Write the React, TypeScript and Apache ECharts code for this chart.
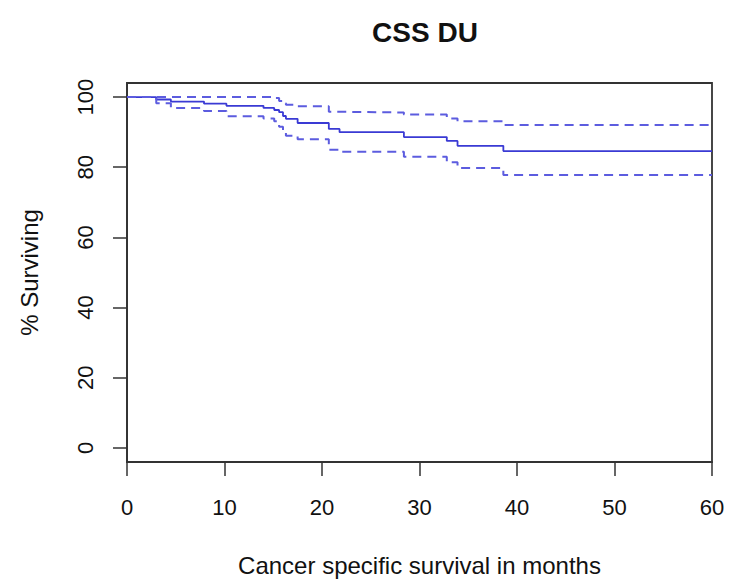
import React, { useEffect, useRef } from "react";
import * as echarts from "echarts";

// Kaplan-Meier estimate (months, % surviving) and its confidence band
const months = [0, 3.0, 4.5, 7.9, 10.2, 14.0, 15.1, 15.6, 16.0, 16.3, 17.5, 20.7, 21.8, 28.4, 32.8, 33.9, 38.6, 60];
const surviving = [100, 99.3, 98.7, 98.1, 97.5, 96.9, 96.3, 95.7, 94.6, 93.8, 92.6, 90.9, 90.0, 88.6, 87.5, 86.1, 84.6, 84.6];
const upperCI = [100, 100, 100, 100, 100, 100, 99.7, 98.9, 98.2, 97.8, 97.4, 95.8, 95.6, 95.0, 93.9, 93.1, 92.0, 92.0];
const lowerCI = [100, 98.2, 96.9, 96.0, 94.5, 93.9, 93.1, 91.5, 90.0, 89.0, 88.0, 85.0, 84.4, 83.0, 81.4, 79.8, 77.8, 77.8];
const yTicks = [0, 20, 40, 60, 80, 100];

const FONT = "'Liberation Sans', Arial, Helvetica, sans-serif";

export default function App() {
  const ref = useRef<HTMLDivElement>(null);
  useEffect(() => {
    if (!ref.current) return;
    const chart = echarts.init(ref.current, undefined, { renderer: "svg" });
    const pairs = (ys: number[]) => months.map((m, i) => [m, ys[i]]);
    chart.setOption({
      animation: false,
      backgroundColor: "#ffffff",
      title: {
        text: "CSS DU",
        left: 420,
        top: 13,
        textAlign: "center",
        textStyle: { fontFamily: FONT, fontSize: 28, fontWeight: "bold", color: "#111" },
      },
      grid: {
        left: 127,
        right: 18,
        top: 83,
        bottom: 118,
        show: true,
        borderColor: "#333",
        borderWidth: 1.8,
        backgroundColor: "transparent",
      },
      xAxis: {
        type: "value",
        min: 0,
        max: 60,
        interval: 10,
        name: "Cancer specific survival in months",
        nameLocation: "middle",
        nameGap: 91,
        nameTextStyle: { fontFamily: FONT, fontSize: 24, color: "#111" },
        axisLine: { show: true, onZero: false, lineStyle: { color: "#333", width: 1.8 } },
        axisTick: { show: true, inside: false, length: 14, lineStyle: { color: "#333", width: 1.5 } },
        axisLabel: { fontFamily: FONT, fontSize: 22, color: "#111", margin: 34 },
        splitLine: { show: false },
      },
      yAxis: {
        type: "value",
        min: -4,
        max: 104,
        name: "% Surviving",
        nameLocation: "middle",
        nameGap: 86,
        nameRotate: 90,
        nameTextStyle: { fontFamily: FONT, fontSize: 24, color: "#111" },
        axisLine: { show: true, onZero: false, lineStyle: { color: "#333", width: 1.8 } },
        axisTick: { show: true, inside: false, length: 14, customValues: yTicks, lineStyle: { color: "#333", width: 1.5 } },
        axisLabel: { fontFamily: FONT, fontSize: 22, color: "#111", margin: 31, rotate: 90, customValues: yTicks },
        splitLine: { show: false },
      },
      series: [
        {
          type: "line",
          step: "end",
          data: pairs(surviving),
          showSymbol: false,
          lineStyle: { color: "#3a3ad4", width: 1.8 },
          z: 3,
        },
        {
          type: "line",
          step: "end",
          data: pairs(upperCI),
          showSymbol: false,
          lineStyle: { color: "#5c5cdf", width: 2, type: [9, 6] },
        },
        {
          type: "line",
          step: "end",
          data: pairs(lowerCI),
          showSymbol: false,
          lineStyle: { color: "#5c5cdf", width: 2, type: [9, 6] },
        },
      ],
    });
    return () => chart.dispose();
  }, []);
  return (
    <div
      ref={ref}
      style={{ position: "absolute", left: 0, top: 0, width: 730, height: 582, background: "#fff" }}
    />
  );
}
